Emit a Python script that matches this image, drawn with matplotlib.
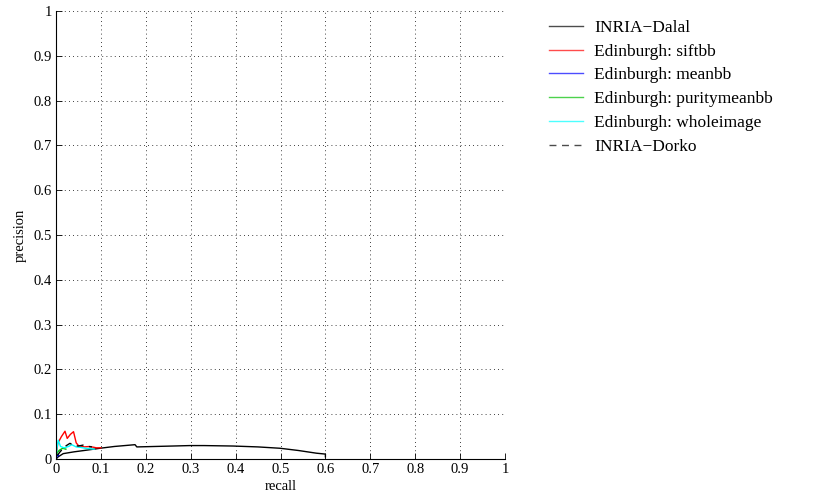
import matplotlib
matplotlib.use('Agg')
import matplotlib.pyplot as plt

plt.rcParams['font.family'] = ['Liberation Serif', 'DejaVu Serif']

# INRIA-Dalal
dalal_r = [0.0, 0.005, 0.016, 0.04, 0.07, 0.098, 0.13, 0.176, 0.18, 0.22, 0.26, 0.298, 0.33,
           0.394, 0.45, 0.499, 0.54, 0.58, 0.6, 0.6]
dalal_p = [0.0, 0.005, 0.012, 0.016, 0.02, 0.024, 0.028, 0.032, 0.027, 0.028, 0.029, 0.030,
           0.030, 0.029, 0.027, 0.024, 0.019, 0.013, 0.011, 0.005]

# Edinburgh: siftbb
sift_r = [0.002, 0.004, 0.012, 0.02, 0.025, 0.032, 0.039, 0.045, 0.05, 0.063, 0.075, 0.09, 0.1]
sift_p = [0.02, 0.035, 0.05, 0.062, 0.046, 0.055, 0.061, 0.036, 0.03, 0.027, 0.028, 0.025, 0.025]

# Edinburgh: meanbb
mean_r = [0.0, 0.002, 0.004, 0.006]
mean_p = [0.0, 0.006, 0.01, 0.008]

# Edinburgh: puritymeanbb
purity_r = [0.0, 0.003, 0.008, 0.015, 0.022]
purity_p = [0.005, 0.015, 0.02, 0.024, 0.022]

# Edinburgh: wholeimage
whole_r = [0.0, 0.003, 0.005, 0.01, 0.018, 0.028, 0.035, 0.045, 0.055, 0.065, 0.075, 0.085]
whole_p = [0.005, 0.03, 0.042, 0.028, 0.025, 0.028, 0.032, 0.027, 0.026, 0.024, 0.023, 0.022]

# INRIA-Dorko
dorko_r = [0.003, 0.009, 0.02, 0.031, 0.04, 0.05, 0.06, 0.07, 0.08]
dorko_p = [0.008, 0.016, 0.028, 0.035, 0.03, 0.029, 0.031, 0.028, 0.027]

ticks = [0, 0.1, 0.2, 0.3, 0.4, 0.5, 0.6, 0.7, 0.8, 0.9, 1]
tick_labels = ['0', '0.1', '0.2', '0.3', '0.4', '0.5', '0.6', '0.7', '0.8', '0.9', '1']

fig = plt.figure(figsize=(8.31, 5.01), dpi=100)
ax = fig.add_axes([0.0674, 0.0838, 0.5403, 0.8942])

ax.plot(dalal_r, dalal_p, color='black', lw=1, label='INRIA\u2212Dalal')
ax.plot(sift_r, sift_p, color='red', lw=1, label='Edinburgh: siftbb')
ax.plot(mean_r, mean_p, color='blue', lw=1, label='Edinburgh: meanbb')
ax.plot(purity_r, purity_p, color='#00c000', lw=1, label='Edinburgh: puritymeanbb')
ax.plot(whole_r, whole_p, color='cyan', lw=1, label='Edinburgh: wholeimage')
ax.plot(dorko_r, dorko_p, color='black', lw=1, ls='--', dashes=(5, 4), label='INRIA\u2212Dorko')

ax.set_xlim(0, 1)
ax.set_ylim(0, 1)
ax.set_xticks(ticks)
ax.set_xticklabels(tick_labels)
ax.set_yticks(ticks)
ax.set_yticklabels(tick_labels)
ax.tick_params(direction='in', length=4, width=0.6, labelsize=10.5, pad=3)
ax.grid(True, color='black', ls=(0, (1, 4)), lw=0.6)
ax.spines['top'].set_visible(False)
ax.spines['right'].set_visible(False)
ax.spines['left'].set_linewidth(0.8)
ax.spines['bottom'].set_linewidth(0.8)
ax.set_xlabel('recall', fontsize=10.5, labelpad=3)
ax.set_ylabel('precision', fontsize=10.5, labelpad=5)

leg = ax.legend(loc='upper left', bbox_to_anchor=(0.6498, 0.978), bbox_transform=fig.transFigure,
                frameon=False, fontsize=12.5, handlelength=1.95, handletextpad=0.69,
                labelspacing=0.44, borderpad=0)
for h in leg.get_lines():
    h.set_alpha(0.7)

fig.savefig('out.png', dpi=100)
